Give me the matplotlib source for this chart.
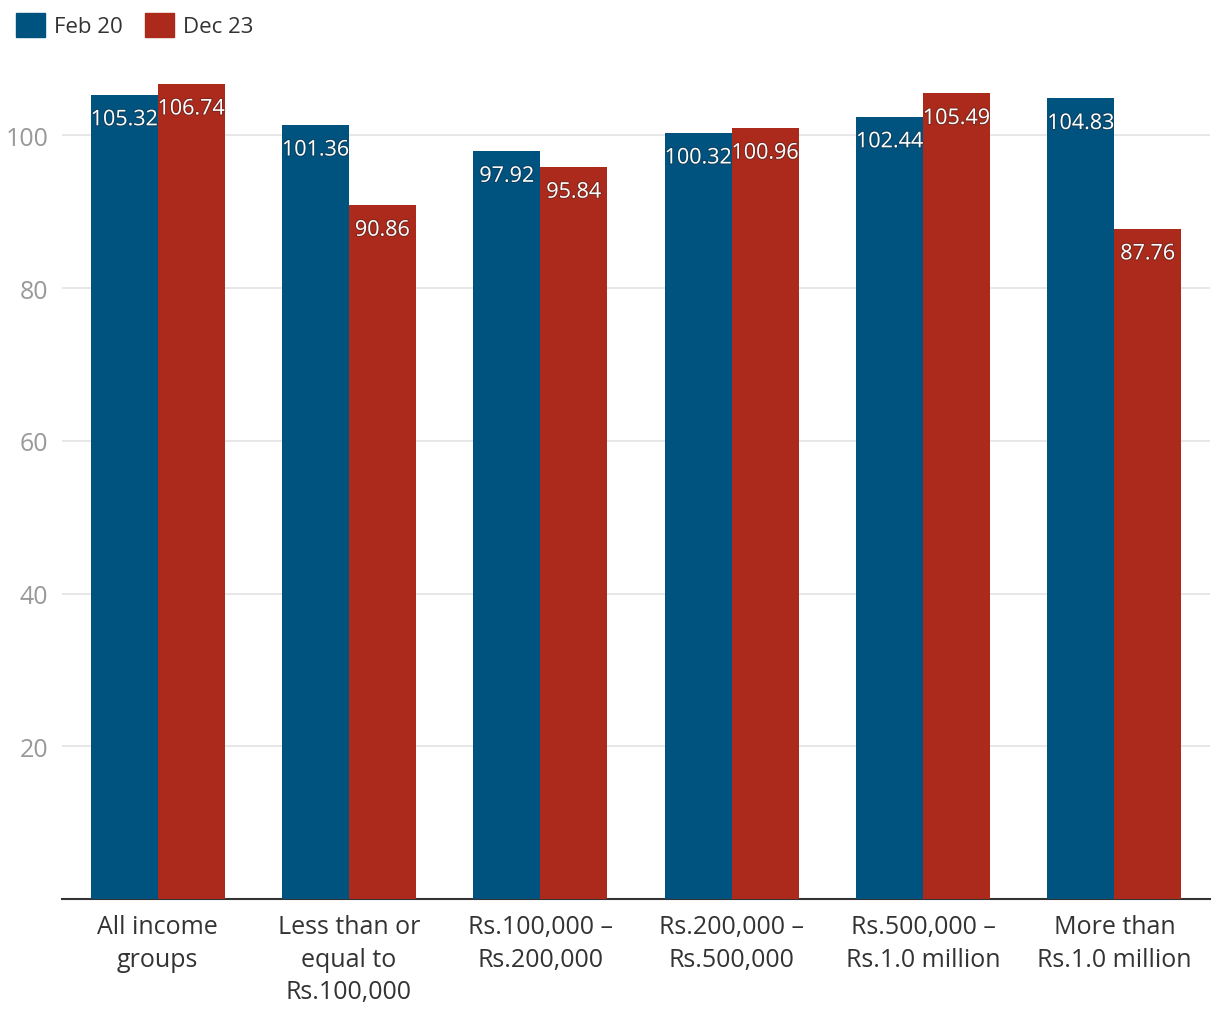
import matplotlib.pyplot as plt
import matplotlib.patheffects as pe
from matplotlib.patches import Patch
import numpy as np

plt.rcParams['font.family'] = ['Open Sans', 'DejaVu Sans']

categories = ["All income\ngroups", "Less than or\nequal to\nRs.100,000", "Rs.100,000 –\nRs.200,000",
              "Rs.200,000 –\nRs.500,000", "Rs.500,000 –\nRs.1.0 million", "More than\nRs.1.0 million"]
feb20 = [105.32, 101.36, 97.92, 100.32, 102.44, 104.83]
dec23 = [106.74, 90.86, 95.84, 100.96, 105.49, 87.76]
series_names = ["Feb 20", "Dec 23"]

blue = '#00527f'
red = '#ac2a1b'

fig = plt.figure(figsize=(12.2, 10.2), dpi=100)
ax = fig.add_axes([62/1220, 1 - 900/1020, 1148/1220, 840/1020])

ind = np.arange(len(categories))
width = 0.35

b1 = ax.bar(ind - width/2, feb20, width, color=blue, zorder=3)
b2 = ax.bar(ind + width/2, dec23, width, color=red, zorder=3)

shadow = [pe.withStroke(linewidth=1.5, foreground='#222222', alpha=0.35)]
for bars, vals in [(b1, feb20), (b2, dec23)]:
    for rect, v in zip(bars, vals):
        ax.text(rect.get_x() + rect.get_width()/2, v - 1.9, f"{v:.2f}",
                ha='center', va='top', color='white', fontsize=15.5,
                path_effects=shadow, zorder=4)

ax.set_xlim(-0.5, len(categories) - 0.5)
ax.set_ylim(0, 110)
ax.set_yticks([20, 40, 60, 80, 100])
ax.set_xticks(ind)
ax.set_xticklabels(categories, fontsize=18, color='#333333', linespacing=1.4)
ax.tick_params(axis='x', length=0, pad=11)
ax.tick_params(axis='y', length=0, labelsize=18, labelcolor='#999999', pad=10)
ax.grid(axis='y', color='#e3e3e3', linewidth=1.2, zorder=0)

for s in ['top', 'right', 'left']:
    ax.spines[s].set_visible(False)
ax.spines['bottom'].set_color('#333333')
ax.spines['bottom'].set_linewidth(1.5)

handles = [Patch(color=blue), Patch(color=red)]
fig.legend(handles, series_names, loc='upper left', bbox_to_anchor=(-0.003, 1.006), ncol=2,
           frameon=False, fontsize=16, handlelength=1.3, handleheight=1.3,
           handletextpad=0.4, columnspacing=1.0, borderpad=0.4, labelcolor='#333333')

plt.savefig('out.png', dpi=100)
